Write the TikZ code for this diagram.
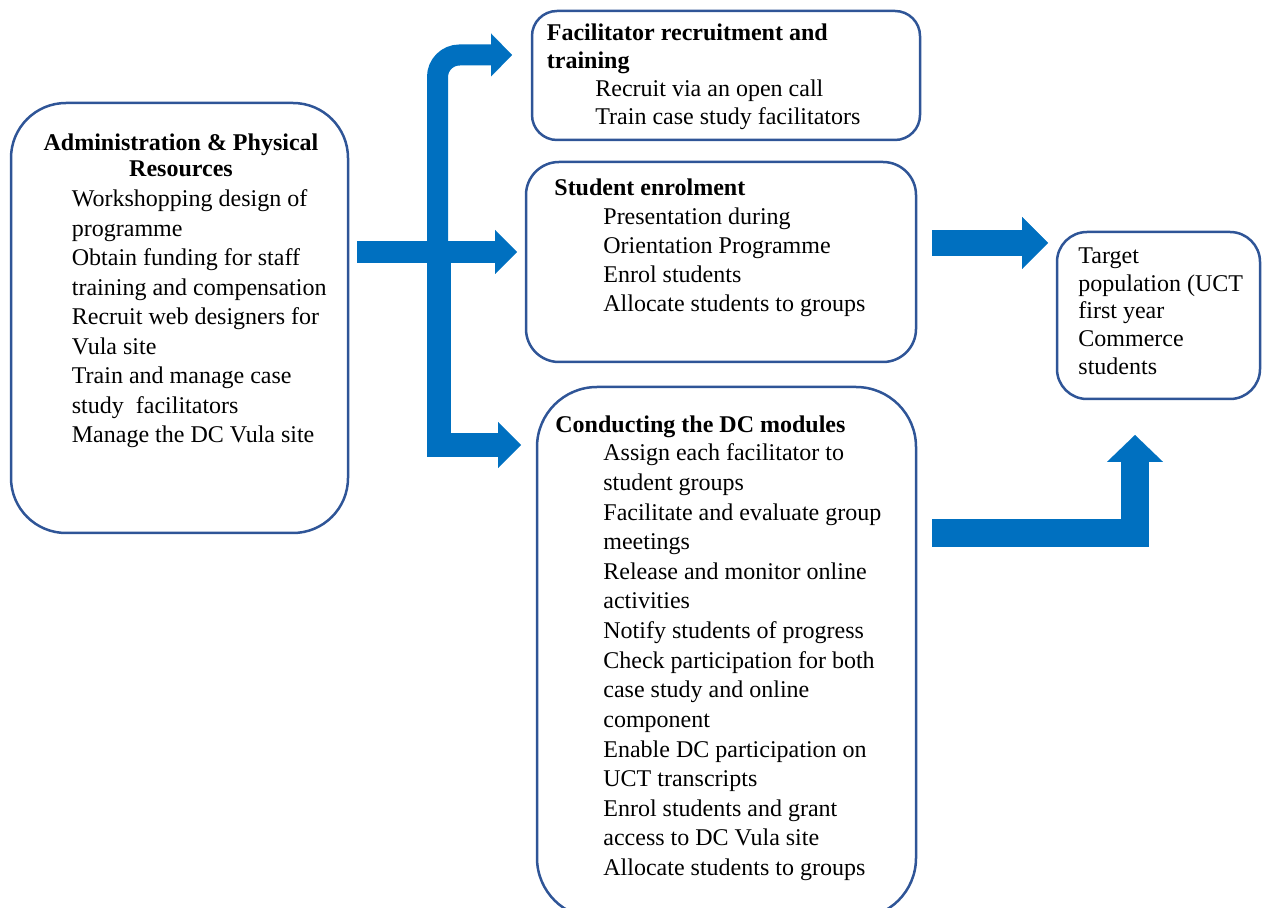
\documentclass[tikz,border=0pt]{standalone}
\usepackage{fontspec}
\setmainfont{Liberation Serif}
\usetikzlibrary{arrows.meta}
\definecolor{boxline}{HTML}{2F5597}
\definecolor{flow}{HTML}{0070C0}
\tikzset{
  box/.style={draw=boxline, line width=1.25pt, rounded corners=#1, inner sep=0pt},
  txt/.style={anchor=base west, inner sep=0pt, font=\fontsize{12pt}{14pt}\selectfont},
  head/.style={txt, font=\fontsize{12pt}{14pt}\selectfont\bfseries},
  flowarrow/.style n args={3}{draw=flow, line width=#1, line cap=butt,
    -{Triangle[width=#2, length=#3, line width=0.01pt]}},
}
\begin{document}
\begin{tikzpicture}[x=0.5pt, y=-0.5pt]
\useasboundingbox (0,0) rectangle (1263,908);
\clip (0,0) rectangle (1263,908);

% ---- boxes ----
\node[box=27.5pt, minimum width=168.5pt, minimum height=215pt] (adm) at (179.5,318) {};
\node[box=12.5pt, minimum width=194pt, minimum height=64.5pt] (fac) at (726,75.5) {};
\node[box=16.5pt, minimum width=195pt, minimum height=100pt] (enr) at (721,262) {};
\node[box=30pt, minimum width=189.5pt, minimum height=265.5pt] (dcm) at (726.5,652.5) {};
\node[box=15pt, minimum width=101.5pt, minimum height=83.5pt] (tgt) at (1158.5,315.5) {};

% ---- administration text ----
\node[head, anchor=base] (adm-h1) at (181,151) {Administration \& Physical};
\node[head, anchor=base] (adm-h2) at (181,177) {Resources};
\foreach \t [count=\i] in {Workshopping design of, programme,
    Obtain funding for staff, training and compensation,
    Recruit web designers for, Vula site, Train and manage case,
    study\ \ facilitators, Manage the DC Vula site}
  \node[txt] (adm-\i) at (71.5,{207+29.5*(\i-1)}) {\t};

% ---- facilitator text ----
\node[head] (fac-h1) at (546.5,41) {Facilitator recruitment and};
\node[head] (fac-h2) at (546.5,69) {training};
\node[txt] (fac-1) at (595,96.5) {Recruit via an open call};
\node[txt] (fac-2) at (595,124.5) {Train case study facilitators};

% ---- enrolment text ----
\node[head] (enr-h) at (554,196) {Student enrolment};
\foreach \t [count=\i] in {Presentation during, Orientation Programme,
    Enrol students, Allocate students to groups}
  \node[txt] (enr-\i) at (603,{225+29*(\i-1)}) {\t};

% ---- DC modules text ----
\node[head] (dcm-h) at (555,432.5) {Conducting the DC modules};
\foreach \t [count=\i] in {Assign each facilitator to, student groups,
    Facilitate and evaluate group, meetings,
    Release and monitor online, activities,
    Notify students of progress,
    Check participation for both, case study and online, component,
    Enable DC participation on, UCT transcripts,
    Enrol students and grant, access to DC Vula site,
    Allocate students to groups}
  \node[txt] (dcm-\i) at (603,{461+29.6*(\i-1)}) {\t};

% ---- target text ----
\foreach \t [count=\i] in {Target, population (UCT, first year,
    Commerce, students}
  \node[txt] (tgt-\i) at (1078,{263.5+27.7*(\i-1)}) {\t};

% ---- arrow end points ----
\coordinate (s-up)  at (437.5,246);
\coordinate (c-up)  at (437.5,55);
\coordinate (e-up)  at (512,55);
\coordinate (s-mid) at (357,252);
\coordinate (e-mid) at (517,252);
\coordinate (s-lo)  at (438.5,258);
\coordinate (c-lo)  at (438.5,445);
\coordinate (e-lo)  at (521,445);
\coordinate (s-tg)  at (932,243);
\coordinate (e-tg)  at (1048,243);
\coordinate (s-bt)  at (932,533);
\coordinate (c-bt)  at (1135,533);
\coordinate (e-bt)  at (1135,435);

% ---- flow arrows ----
\draw[flowarrow={10.5pt}{21.5pt}{10.5pt}, rounded corners=11pt] (s-up) -- (c-up) -- (e-up);
\draw[flowarrow={12pt}{23pt}{11.5pt}] (s-lo) -- (c-lo) -- (e-lo);
\draw[flowarrow={11pt}{22pt}{11pt}] (s-mid) -- (e-mid);
\draw[flowarrow={13pt}{26pt}{13pt}] (s-tg) -- (e-tg);
\draw[flowarrow={14pt}{28pt}{13.5pt}] (s-bt) -- (c-bt) -- (e-bt);
\end{tikzpicture}
\end{document}
